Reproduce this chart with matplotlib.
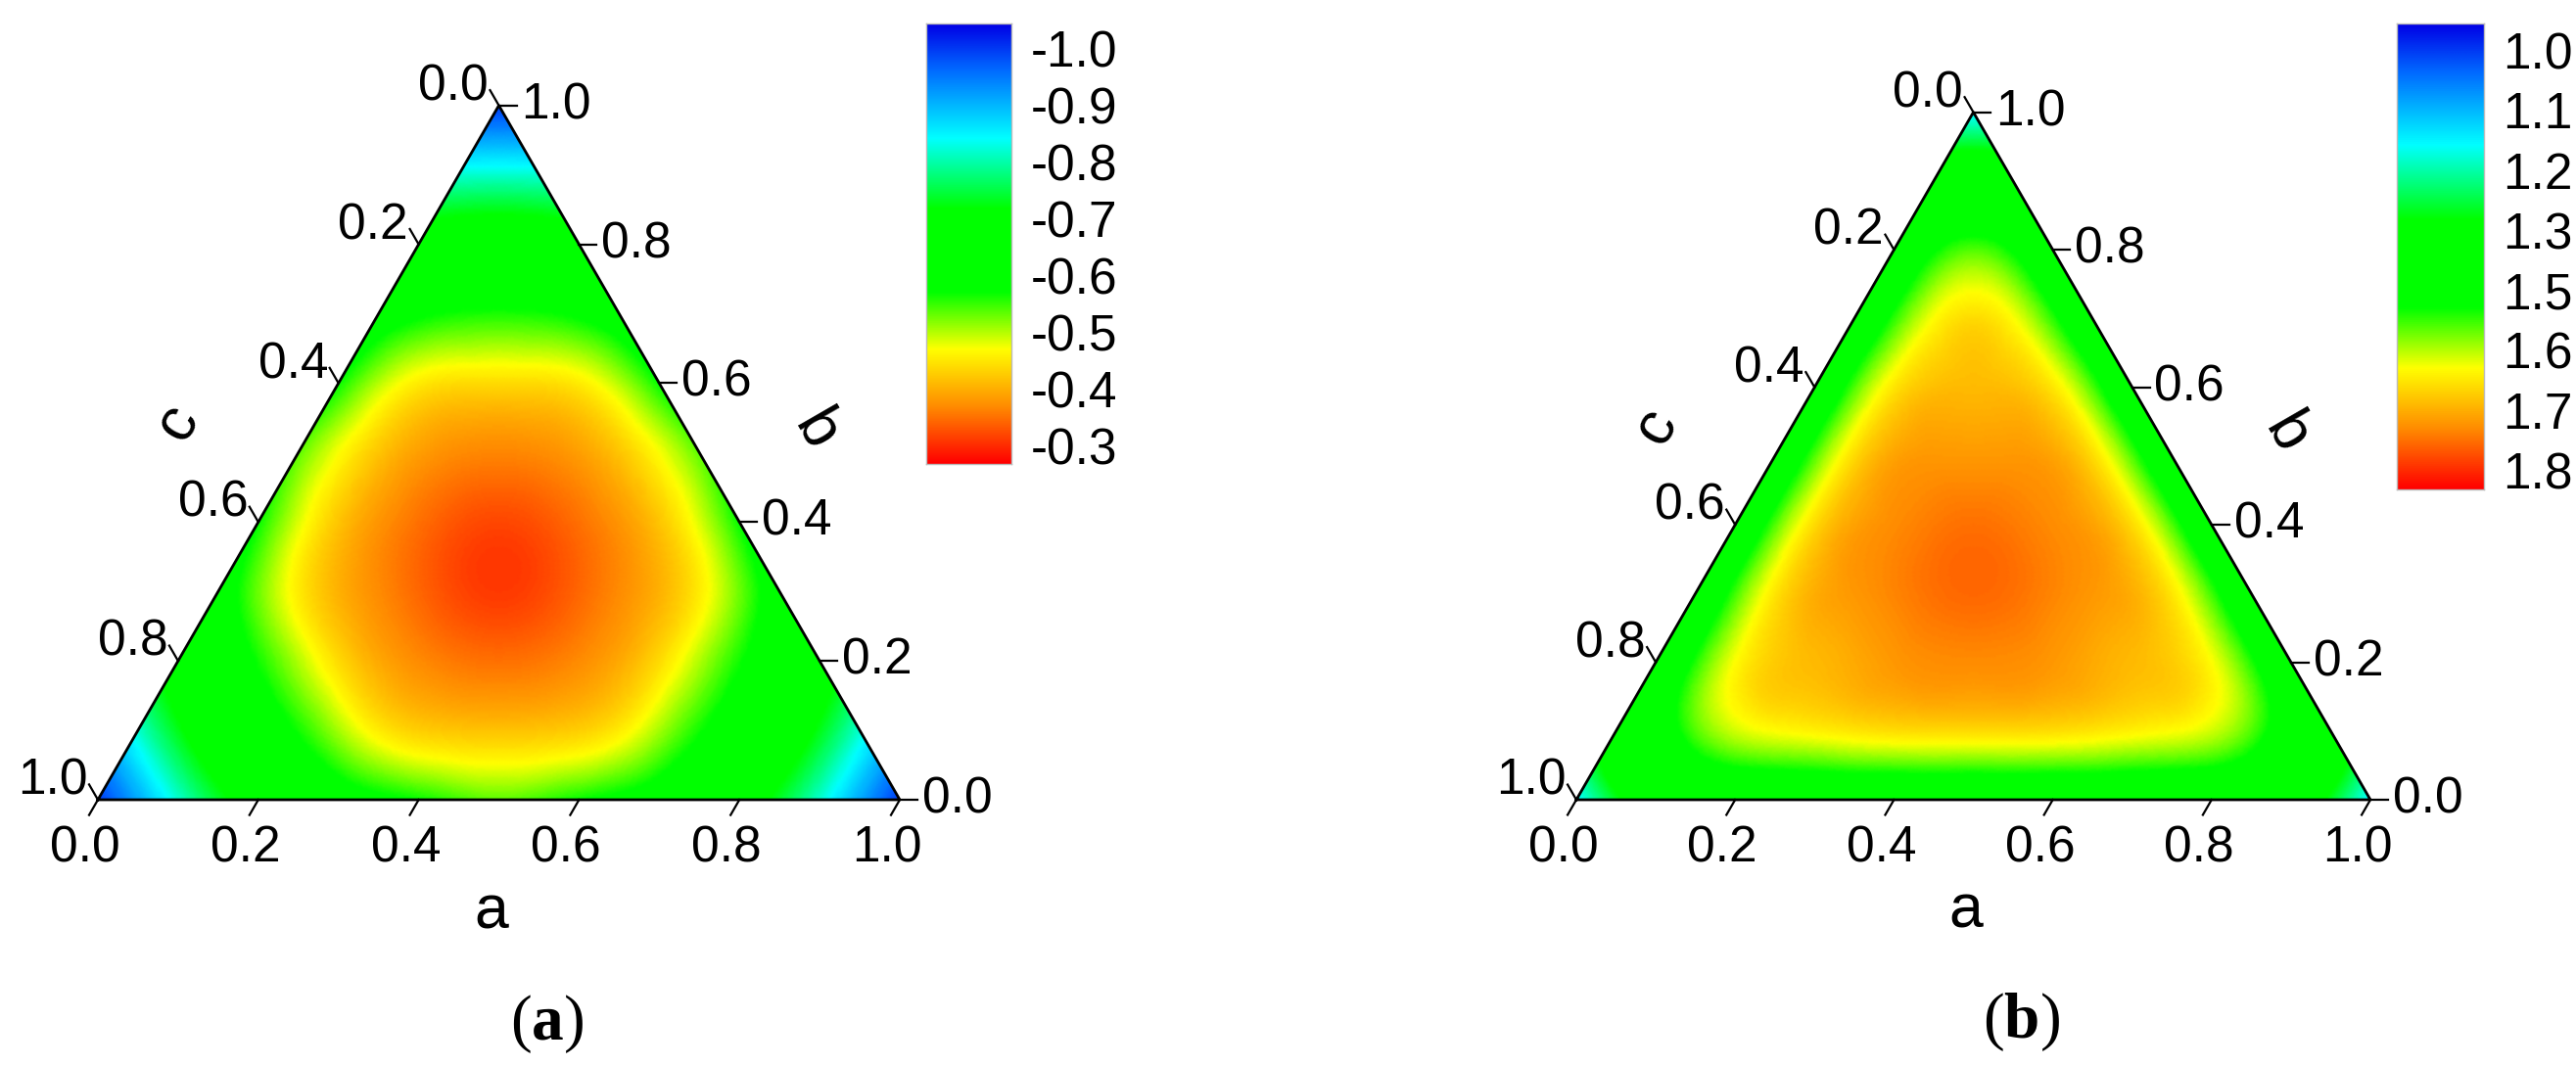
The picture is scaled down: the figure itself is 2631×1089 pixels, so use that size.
import numpy as np
import matplotlib
matplotlib.use("Agg")
import matplotlib.pyplot as plt
import matplotlib.tri as mtri
from matplotlib.colors import LinearSegmentedColormap

plt.rcParams['font.family'] = ['Liberation Sans', 'DejaVu Sans']
plt.rcParams['mathtext.fontset'] = 'custom'
plt.rcParams['mathtext.rm'] = 'Liberation Serif'
plt.rcParams['mathtext.bf'] = 'Liberation Serif:bold'

# field values on a 0.1 ternary grid
# rows go by b = 0.0 ... 1.0, inside a row a = 0.0 ... 1-b
field_a = [
    [-1.00, -0.82, -0.68, -0.61, -0.57, -0.535, -0.57, -0.61, -0.68, -0.82, -1.00],
    [-0.82, -0.66, -0.565, -0.455, -0.42, -0.42, -0.455, -0.565, -0.66, -0.82],
    [-0.68, -0.565, -0.44, -0.37, -0.35, -0.37, -0.44, -0.565, -0.68],
    [-0.61, -0.455, -0.37, -0.32, -0.32, -0.37, -0.455, -0.61],
    [-0.57, -0.42, -0.35, -0.32, -0.35, -0.42, -0.57],
    [-0.535, -0.42, -0.37, -0.37, -0.42, -0.535],
    [-0.57, -0.455, -0.44, -0.455, -0.57],
    [-0.61, -0.565, -0.565, -0.61],
    [-0.68, -0.66, -0.68],
    [-0.82, -0.82],
    [-1.00],
]
field_b = [
    [1.15, 1.36, 1.42, 1.42, 1.42, 1.42, 1.42, 1.42, 1.42, 1.36, 1.15],
    [1.36, 1.56, 1.63, 1.65, 1.66, 1.66, 1.65, 1.63, 1.56, 1.36],
    [1.42, 1.63, 1.69, 1.72, 1.73, 1.72, 1.69, 1.63, 1.42],
    [1.42, 1.65, 1.72, 1.75, 1.75, 1.72, 1.65, 1.42],
    [1.42, 1.66, 1.73, 1.75, 1.73, 1.66, 1.42],
    [1.42, 1.66, 1.72, 1.72, 1.66, 1.42],
    [1.42, 1.65, 1.69, 1.65, 1.42],
    [1.42, 1.63, 1.63, 1.42],
    [1.42, 1.56, 1.42],
    [1.36, 1.36],
    [1.15],
]
cbar_labels_a = ['-1.0', '-0.9', '-0.8', '-0.7', '-0.6', '-0.5', '-0.4', '-0.3']
cbar_values_a = [-1.0, -0.9, -0.8, -0.7, -0.6, -0.5, -0.4, -0.3]
cbar_labels_b = ['1.0', '1.1', '1.2', '1.3', '1.5', '1.6', '1.7', '1.8']
cbar_values_b = [1.0, 1.1, 1.2, 1.3, 1.5, 1.6, 1.7, 1.8]
axis_ticks = [0.0, 0.2, 0.4, 0.6, 0.8, 1.0]

cmap = LinearSegmentedColormap.from_list('tern', [
    (0.0, (0.0, 0.0, 0.9)), (0.1, (0.0, 0.4, 1.0)), (0.26, (0.0, 1.0, 1.0)),
    (0.42, (0.0, 1.0, 0.0)), (0.61, (0.0, 1.0, 0.0)), (0.74, (1.0, 1.0, 0.0)),
    (0.87, (1.0, 0.55, 0.0)), (1.0, (1.0, 0.0, 0.0))])
tick_pos = np.linspace(0.057, 0.959, 8)

W, H = 2631, 1089
fig = plt.figure(figsize=(W / 100, H / 100), dpi=100)
R3 = np.sqrt(3) / 2
FS = 37


def ternary(left, right, base, field, cvals, panel):
    side = right - left
    ax = fig.add_axes([left / W, (H - base) / H, side / W, side * R3 / H])
    ax.set_xlim(0, 1)
    ax.set_ylim(0, R3)
    ax.axis('off')

    xs, ys, zs = [], [], []
    for j, row in enumerate(field):
        for i, v in enumerate(row):
            a, b = i / 10, j / 10
            xs.append(a + b / 2)
            ys.append(b * R3)
            zs.append(v)
    tri = mtri.Triangulation(xs, ys)
    ref = mtri.UniformTriRefiner(tri)
    tri_f, z_f = ref.refine_field(np.array(zs), subdiv=5)
    frac = np.interp(z_f, cvals, tick_pos)
    ax.tripcolor(tri_f, frac, cmap=cmap, vmin=0, vmax=1, shading='gouraud')
    ax.plot([0, 1, 0.5, 0], [0, 0, R3, 0], color='black', lw=2, clip_on=False)

    L = 0.022
    for t in axis_ticks:
        lab = f'{t:.1f}'
        # bottom axis a
        x0, y0 = t, 0
        x1, y1 = x0 - 0.5 * L, y0 - R3 * L
        ax.plot([x0, x1], [y0, y1], color='black', lw=1.6, clip_on=False)
        ax.text(x1 - 0.005, y1 - 0.012, lab, ha='center', va='top', fontsize=FS)
        # right axis b
        x0, y0 = 1 - t / 2, t * R3
        x1 = x0 + L
        ax.plot([x0, x1], [y0, y0], color='black', lw=1.6, clip_on=False)
        ax.text(x1 + 0.006, y0, lab, ha='left', va='center', fontsize=FS)
        # left axis c
        x0, y0 = (1 - t) / 2, (1 - t) * R3
        x1, y1 = x0 - 0.5 * L, y0 + R3 * L
        ax.plot([x0, x1], [y0, y1], color='black', lw=1.6, clip_on=False)
        ax.text(x1 - 0.002, y1 + 0.004, lab, ha='right', va='center', fontsize=FS)

    ax.text(0.49, -0.14, 'a', ha='center', va='center', fontsize=FS + 8)
    ax.text(0.10, 0.47, 'c', ha='center', va='center', fontsize=FS + 8, rotation=60)
    ax.text(0.895, 0.46, 'b', ha='center', va='center', fontsize=FS + 8, rotation=-60)
    ax.text(0.56, -0.28, r'$(\mathbf{' + panel + r'})$', ha='center', va='center',
            fontsize=FS + 10)


def colorbar(left, right, top, bottom, labels):
    cax = fig.add_axes([left / W, (H - bottom) / H, (right - left) / W, (bottom - top) / H])
    grad = np.linspace(0, 1, 512).reshape(-1, 1)
    cax.imshow(grad, cmap=cmap, aspect='auto', extent=[0, 1, 1, 0], vmin=0, vmax=1)
    cax.set_ylim(1, 0)
    cax.set_xticks([])
    cax.yaxis.tick_right()
    cax.set_yticks(tick_pos)
    cax.set_yticklabels(labels, fontsize=FS)
    cax.tick_params(axis='y', length=0, pad=14)
    for s in cax.spines.values():
        s.set_color('#bbbbbb')
        s.set_linewidth(1)


ternary(100, 919, 817, field_a, cbar_values_a, 'a')
ternary(1610, 2421, 817, field_b, cbar_values_b, 'b')
colorbar(946, 1033, 24, 474, cbar_labels_a)
colorbar(2448, 2537, 24, 500, cbar_labels_b)

fig.savefig('out.png', dpi=100)
